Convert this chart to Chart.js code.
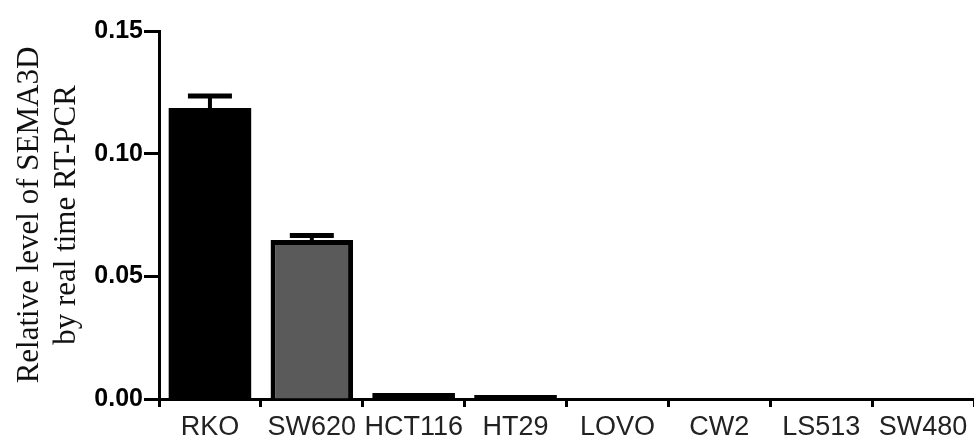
<!DOCTYPE html>
<html>
<head>
<meta charset="utf-8">
<script src="https://cdn.jsdelivr.net/npm/chart.js@4.4.1/dist/chart.umd.min.js"></script>
<style>
  html, body { margin: 0; padding: 0; background: #fff; overflow: hidden; }
  #wrap { width: 974px; height: 437px; }
</style>
</head>
<body>
<div id="wrap"><canvas id="chart" width="974" height="437"></canvas></div>
<script>
const cellLines = ["RKO", "SW620", "HCT116", "HT29", "LOVO", "CW2", "LS513", "SW480"];
const levels = [0.1186, 0.0648, 0.0024, 0.0016, 0, 0, 0, 0];
const errors = [0.0049, 0.0018, 0, 0, 0, 0, 0, 0];
const fills = ["#000000", "#5a5a5a", "#000000", "#000000", "#000000", "#000000", "#000000", "#000000"];
const yTicks = [0, 0.05, 0.10, 0.15];

// upper error bars, drawn through the y scale
const errorBars = {
  id: "errorBars",
  afterDatasetsDraw(chart) {
    const ctx = chart.ctx;
    const y = chart.scales.y;
    const meta = chart.getDatasetMeta(0);
    ctx.save();
    ctx.strokeStyle = "#000";
    meta.data.forEach((bar, i) => {
      if (!errors[i]) return;
      const top = y.getPixelForValue(levels[i]);
      const cap = y.getPixelForValue(levels[i] + errors[i]);
      ctx.lineWidth = 4;
      ctx.beginPath();
      ctx.moveTo(bar.x, top + 3);
      ctx.lineTo(bar.x, cap);
      ctx.stroke();
      ctx.lineWidth = 5;
      ctx.beginPath();
      ctx.moveTo(bar.x - 22, cap);
      ctx.lineTo(bar.x + 22, cap);
      ctx.stroke();
    });
    ctx.restore();
  }
};

new Chart(document.getElementById("chart"), {
  type: "bar",
  data: {
    labels: cellLines,
    datasets: [{
      data: levels,
      backgroundColor: fills,
      borderColor: "#000",
      // solid black bars need no border (avoids a seam); the grey one gets a black frame
      borderWidth: fills.map((c) => (c === "#000000" ? 0 : 5)),
      borderSkipped: "bottom",
      inflateAmount: 0,
      categoryPercentage: 1,
      barPercentage: 0.81
    }]
  },
  options: {
    responsive: false,
    animation: false,
    layout: { autoPadding: false, padding: { top: 31, left: 0, right: -6, bottom: 0 } },
    plugins: { legend: { display: false }, tooltip: { enabled: false } },
    scales: {
      x: {
        afterFit: (s) => { s.height = 38; },
        grid: { display: true, drawOnChartArea: false, tickLength: 8, tickWidth: 3, tickColor: "#000" },
        border: { display: true, color: "#000", width: 3 },
        ticks: {
          color: "#222",
          padding: 4,
          maxRotation: 0,
          autoSkip: false,
          font: { family: "'Liberation Sans', Arial", size: 27 }
        }
      },
      y: {
        min: 0,
        max: 0.15,
        afterFit: (s) => { s.width = 159; },
        afterBuildTicks: (s) => { s.ticks = yTicks.map((v) => ({ value: v })); },
        grid: { display: true, drawOnChartArea: false, tickLength: 15, tickWidth: 3, tickColor: "#000" },
        border: { display: true, color: "#000", width: 3 },
        ticks: {
          color: "#000",
          padding: 1,
          callback: (v) => Number(v).toFixed(2),
          font: { family: "'Liberation Sans', Arial", size: 25, weight: "bold" }
        },
        title: {
          display: true,
          text: ["Relative level of SEMA3D", "by real time RT-PCR"],
          color: "#111",
          padding: { top: 12, bottom: 0 },
          font: { family: "'Liberation Serif', 'Times New Roman'", size: 31, lineHeight: 1.18 }
        }
      }
    }
  },
  plugins: [errorBars]
});
</script>
</body>
</html>
